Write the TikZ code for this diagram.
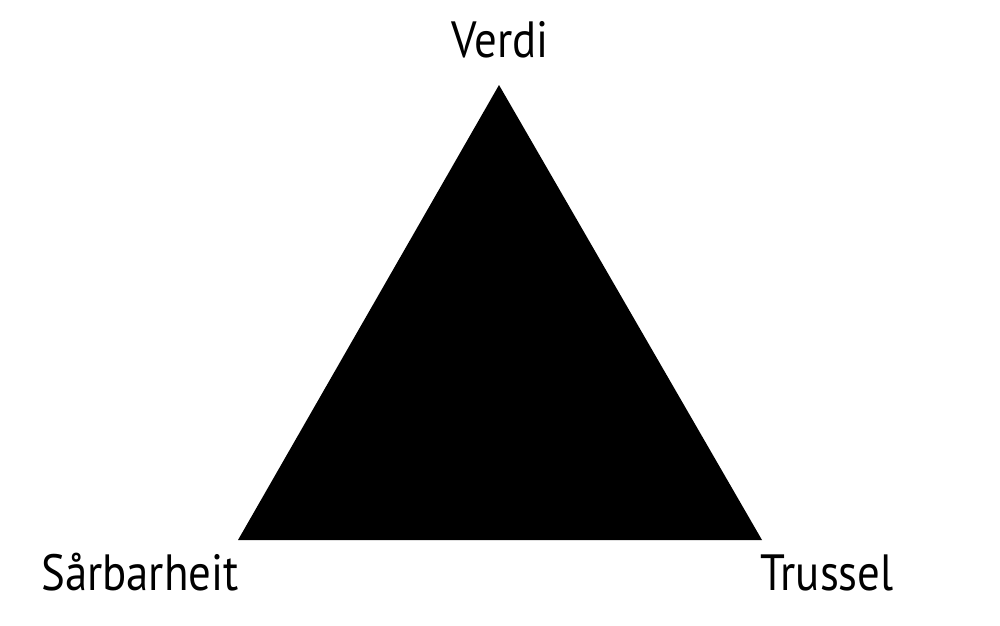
\documentclass[tikz,border=0pt]{standalone}
\usepackage{fontspec}
\setmainfont[FakeStretch=0.88]{PT Sans}
\usetikzlibrary{positioning}

\begin{document}
\begin{tikzpicture}[
        label/.style={anchor=base, inner sep=0pt, font=\fontsize{14.5pt}{16pt}\selectfont}
    ]
        \useasboundingbox (0,0) rectangle (10,6.25);
        \coordinate (top) at (4.99,5.40);
        \coordinate (left) at (2.38,0.85);
        \coordinate (right) at (7.62,0.85);
        \fill[black] (top) -- (left) -- (right) -- cycle;

        \node[label] (verdi) at (5.00,5.68) {Verdi};
        \node[label] (sarbarheit) at (1.40,0.35) {Sårbarheit};
        \node[label] (trussel) at (8.27,0.35) {Trussel};
    \end{tikzpicture}
\end{document}
